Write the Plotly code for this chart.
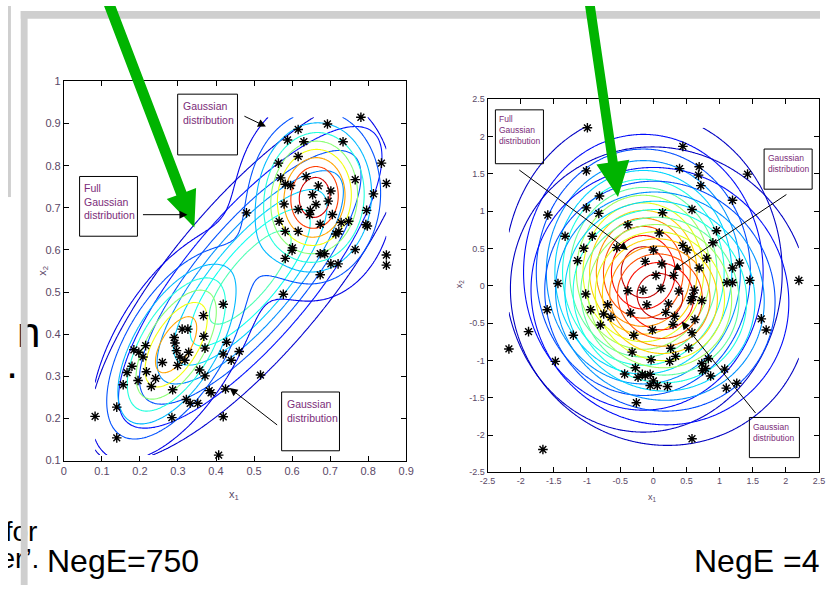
import numpy as np
import plotly.graph_objects as go

W, H = 828, 591
SANS = "Liberation Sans, Arial, sans-serif"
TICK_COLOR = "#5a4866"
BOX_TEXT = "#7b2c79"
FRAME_GRAY = "#cfcfcf"
ARROW_GREEN = "#00b400"

# ---------------- left panel: two well separated clusters ----------------
left_x1 = [0.082, 0.139, 0.139, 0.156, 0.166, 0.179, 0.184, 0.197, 0.208, 0.215,
           0.195, 0.217, 0.230, 0.241, 0.259, 0.284, 0.286, 0.290, 0.292, 0.296,
           0.299, 0.305, 0.311, 0.326, 0.318, 0.328, 0.322, 0.332, 0.352, 0.357,
           0.367, 0.368, 0.371, 0.371, 0.382, 0.387, 0.419, 0.419, 0.428, 0.440,
           0.461, 0.425, 0.419, 0.407, 0.517, 0.577,
           0.781, 0.693, 0.616, 0.588, 0.631, 0.734, 0.616, 0.564, 0.835, 0.848,
           0.570, 0.582, 0.596, 0.637, 0.669, 0.702, 0.654, 0.695, 0.663, 0.766,
           0.814, 0.796, 0.794, 0.798, 0.579, 0.616, 0.648, 0.646, 0.706, 0.674,
           0.729, 0.749, 0.566, 0.582, 0.616, 0.715, 0.723, 0.480, 0.601, 0.600,
           0.582, 0.674, 0.686, 0.766, 0.702, 0.721, 0.674, 0.848, 0.848]
left_x2 = [0.205, 0.227, 0.154, 0.280, 0.309, 0.324, 0.363, 0.357, 0.346, 0.373,
           0.290, 0.311, 0.276, 0.295, 0.333, 0.202, 0.268, 0.392, 0.379, 0.361,
           0.326, 0.346, 0.412, 0.412, 0.338, 0.357, 0.245, 0.236, 0.236, 0.315,
           0.444, 0.395, 0.367, 0.301, 0.266, 0.261, 0.471, 0.353, 0.381, 0.338,
           0.359, 0.270, 0.204, 0.113, 0.303, 0.495,
           0.915, 0.899, 0.886, 0.861, 0.857, 0.857, 0.822, 0.806, 0.806, 0.758,
           0.771, 0.756, 0.753, 0.774, 0.752, 0.740, 0.731, 0.716, 0.708, 0.767,
           0.733, 0.694, 0.660, 0.657, 0.709, 0.696, 0.694, 0.684, 0.684, 0.661,
           0.665, 0.668, 0.668, 0.644, 0.644, 0.638, 0.644, 0.688, 0.605, 0.599,
           0.580, 0.591, 0.591, 0.601, 0.567, 0.567, 0.541, 0.588, 0.564]

# fitted two-component mixture (left panel)
mix_means = [(0.660, 0.725), (0.295, 0.375)]
mix_sigmas = [(0.097, 0.115), (0.110, 0.135)]
mix_rhos = [0.05, 0.60]
mix_weights = [0.537, 0.463]
# single full Gaussian fitted to all left-panel points
full_mean_left = (0.49, 0.535)
full_sigma_left = (0.208, 0.215)
full_rho_left = 0.80

# ---------------- right panel: near-Gaussian cloud ----------------
right_x1 = [-0.994, 0.446, 0.396, 0.692, 0.682, 0.717, 1.422, -1.009, -0.812, -1.009,
            -0.822, -1.591, 0.140, 0.584, 1.195, -1.330, -0.920, -0.383, -1.049, -0.551,
            0.090, 0.446, 0.510, 0.002, 0.953, 0.899, -1.142, -0.122, 0.130, 0.806,
            0.692, 1.195, 1.299, 0.041, 0.307, 2.196, 1.456, 1.111, 1.195, -1.438,
            -0.383, -0.156, 0.115, 0.386, 0.618, 0.594, 0.569, 0.732, -1.019, -1.601,
            -1.882, -2.178, -0.945, -0.689, -0.748, -0.639, -0.343, -0.097, 0.229, 0.189,
            0.322, 0.298, 0.628, -0.797, -0.013, -0.294, 0.584, -1.206, 1.629, 1.703,
            -0.319, 0.263, 0.534, 0.337, -0.033, 0.248, 0.830, 0.732, -1.477, -0.270,
            0.742, 0.791, 0.865, 1.077, -0.432, -0.230, -0.166, -0.122, -0.047, 0.002,
            -0.047, 0.061, 0.214, 1.101, 1.259, -0.255, 0.584, -1.665]
right_x2 = [2.115, 1.866, 1.568, 1.594, 1.481, 1.341, 1.494, 1.538, 1.201, 1.043,
            0.969, 0.947, 0.978, 1.021, 1.144, 0.663, 0.663, 0.816, 0.501, 0.510,
            0.706, 0.540, 0.479, 0.479, 0.737, 0.575, 0.335, 0.326, 0.291, 0.370,
            0.238, 0.238, 0.304, 0.138, 0.138, 0.072, 0.072, 0.042, 0.042, 0.030,
            -0.068, -0.059, -0.037, -0.072, -0.059, -0.147, -0.199, -0.199, -0.112, -0.322,
            -0.615, -0.847, -0.322, -0.256, -0.379, -0.422, -0.365, -0.256, -0.243, -0.357,
            -0.409, -0.519, -0.453, -0.527, -0.593, -0.663, -0.628, -0.663, -0.444, -0.593,
            -0.890, -0.838, -0.834, -0.947, -0.991, -1.013, -0.978, -1.043, -1.013, -1.100,
            -1.140, -1.109, -1.210, -1.118, -1.183, -1.227, -1.188, -1.205, -1.188, -1.275,
            -1.337, -1.337, -1.350, -1.372, -1.306, -1.568, -2.050, -2.194]

full_mean_right = (-0.15, 0.18)
full_sigma_right = (0.90, 0.92)
full_rho_right = 0.0
gauss_mean_right = (0.10, -0.14)
gauss_sigma_right = (0.97, 0.86)
gauss_rho_right = -0.05

# axis ticks
left_xticks = [0, 0.1, 0.2, 0.3, 0.4, 0.5, 0.6, 0.7, 0.8, 0.9]
left_xlabels = ["0", "0.1", "0.2", "0.3", "0.4", "0.5", "0.6", "0.7", "0.8", "0.9"]
left_yticks = [0.1, 0.2, 0.3, 0.4, 0.5, 0.6, 0.7, 0.8, 0.9, 1.0]
left_ylabels = ["0.1", "0.2", "0.3", "0.4", "0.5", "0.6", "0.7", "0.8", "0.9", "1"]
right_ticks = [-2.5, -2, -1.5, -1, -0.5, 0, 0.5, 1, 1.5, 2, 2.5]
right_labels = ["-2.5", "-2", "-1.5", "-1", "-0.5", "0", "0.5", "1", "1.5", "2", "2.5"]


def gauss2d(X, Y, mean, sigma, rho):
    dx = (X - mean[0]) / sigma[0]
    dy = (Y - mean[1]) / sigma[1]
    q = (dx * dx + dy * dy - 2 * rho * dx * dy) / (1 - rho ** 2)
    return np.exp(-q / 2) / (2 * np.pi * sigma[0] * sigma[1] * np.sqrt(1 - rho ** 2))


def jet(t):
    r = np.clip(1.5 - abs(4 * t - 3), 0, 1)
    g = np.clip(1.5 - abs(4 * t - 2), 0, 1)
    b = np.clip(1.5 - abs(4 * t - 1), 0, 1)
    return "rgb(%d,%d,%d)" % (round(r * 255), round(g * 255), round(b * 255))


def jet_scale(lo, hi, n=25):
    return [[i / (n - 1), jet(lo + (hi - lo) * i / (n - 1))] for i in range(n)]


def contour_trace(gx, gy, Z, delta, nlev, cscale, xa, ya):
    return go.Contour(
        x=gx, y=gy, z=Z, xaxis=xa, yaxis=ya, autocontour=False,
        contours=dict(start=delta, end=delta * nlev, size=delta,
                      coloring="lines", showlabels=False),
        colorscale=cscale, showscale=False, hoverinfo="skip",
        line=dict(width=1.1, smoothing=0.8))


fig = go.Figure()

# ---- left panel contours (grid spans the data range) ----
gxl = np.linspace(min(left_x1), max(left_x1), 220)
gyl = np.linspace(min(left_x2), max(left_x2), 220)
XL, YL = np.meshgrid(gxl, gyl)
Zmix = sum(w * gauss2d(XL, YL, m, s, r)
           for w, m, s, r in zip(mix_weights, mix_means, mix_sigmas, mix_rhos))
Zfull_l = gauss2d(XL, YL, full_mean_left, full_sigma_left, full_rho_left)
nf = 7
df = Zfull_l.max() / (nf + 1)
fig.add_trace(contour_trace(gxl, gyl, Zfull_l, df, nf,
                            jet_scale(0.08, 0.45), "x", "y"))
nl = 9
dl = Zmix.max() / 9.8
fig.add_trace(contour_trace(gxl, gyl, Zmix, dl, nl,
                            jet_scale(1 / 9.8, 9 / 9.8), "x", "y"))

# ---- right panel contours ----
gxr = np.linspace(min(right_x1), max(right_x1), 220)
gyr = np.linspace(min(right_x2), max(right_x2), 220)
XR, YR = np.meshgrid(gxr, gyr)
Zfull_r = gauss2d(XR, YR, full_mean_right, full_sigma_right, full_rho_right)
Zg_r = gauss2d(XR, YR, gauss_mean_right, gauss_sigma_right, gauss_rho_right)
nr = 14
dr = max(Zfull_r.max(), Zg_r.max()) / (nr + 1)
cs_r = jet_scale(1 / (nr + 1), nr / (nr + 1))
fig.add_trace(contour_trace(gxr, gyr, Zfull_r, dr, nr, cs_r, "x2", "y2"))
fig.add_trace(contour_trace(gxr, gyr, Zg_r, dr, nr, cs_r, "x2", "y2"))

star = dict(symbol="asterisk-open", size=8, color="black",
            line=dict(color="black", width=1.4))
fig.add_trace(go.Scatter(x=left_x1, y=left_x2, mode="markers", marker=star,
                         xaxis="x", yaxis="y", hoverinfo="skip"))
fig.add_trace(go.Scatter(x=right_x1, y=right_x2, mode="markers", marker=star,
                         xaxis="x2", yaxis="y2", hoverinfo="skip"))

# slide text fragments peeking in at the left edge (pixel overlay axes)
frag_text = ["n", "’.", "for", "er’."]
frag_x = [33, 10, 30, 32]
frag_y = [337, 369, 539, 567]
frag_size = [42, 42, 28, 28]
fig.add_trace(go.Scatter(x=frag_x, y=frag_y, mode="text", text=frag_text,
                         textposition="middle left", xaxis="x3", yaxis="y3",
                         textfont=dict(family=SANS, size=frag_size, color="black"),
                         hoverinfo="skip"))

axis_common = dict(showline=True, linecolor="black", linewidth=1, mirror="ticks",
                   ticks="inside", ticklen=5, tickcolor="black", tickwidth=1,
                   showgrid=False, zeroline=False, fixedrange=True)

fig.update_layout(
    width=W, height=H, autosize=False,
    margin=dict(l=0, r=0, t=0, b=0),
    paper_bgcolor="white", plot_bgcolor="rgba(0,0,0,0)",
    showlegend=False,
    xaxis=dict(axis_common, domain=[57 / W, 406 / W], range=[0, 0.9], anchor="y",
               tickvals=left_xticks, ticktext=left_xlabels,
               tickfont=dict(family=SANS, size=11, color=TICK_COLOR)),
    yaxis=dict(axis_common, domain=[1 - 464 / H, 1 - 77 / H], range=[0.1, 1.0], anchor="x",
               tickvals=left_yticks, ticktext=left_ylabels,
               tickfont=dict(family=SANS, size=11, color=TICK_COLOR)),
    xaxis2=dict(axis_common, domain=[489 / W, 827 / W], range=[-2.5, 2.5], anchor="y2",
                tickvals=right_ticks, ticktext=right_labels,
                tickfont=dict(family=SANS, size=9, color=TICK_COLOR)),
    yaxis2=dict(axis_common, domain=[1 - 476 / H, 1 - 95 / H], range=[-2.5, 2.5], anchor="x2",
                tickvals=right_ticks, ticktext=right_labels,
                tickfont=dict(family=SANS, size=9, color=TICK_COLOR)),
    xaxis3=dict(domain=[0, 1], range=[0, W], visible=False, anchor="y3", fixedrange=True),
    yaxis3=dict(domain=[0, 1], range=[H, 0], visible=False, anchor="x3", fixedrange=True),
)


def arrow_path(tail, tip, w, hw, hl):
    dx, dy = tip[0] - tail[0], tip[1] - tail[1]
    L = np.hypot(dx, dy)
    ux, uy = dx / L, dy / L
    nx, ny = -uy, ux
    bx, by = tip[0] - hl * ux, tip[1] - hl * uy
    pts = [(tail[0] + nx * w / 2, tail[1] + ny * w / 2),
           (bx + nx * w / 2, by + ny * w / 2),
           (bx + nx * hw, by + ny * hw),
           tip,
           (bx - nx * hw, by - ny * hw),
           (bx - nx * w / 2, by - ny * w / 2),
           (tail[0] - nx * w / 2, tail[1] - ny * w / 2)]
    return "M " + " L ".join("%.1f,%.1f" % p for p in pts) + " Z"


shapes = []
# slide frame
for x0, y0, x1, y1 in [(13, 5, W, 13), (13, 5, 20, H), (0, 0, 3, 195)]:
    shapes.append(dict(type="rect", xref="x3", yref="y3", x0=x0, y0=y0, x1=x1, y1=y1,
                       fillcolor=FRAME_GRAY, line=dict(width=0), layer="above"))
# text boxes
for x0, y0, x1, y1 in [(173, 90, 234, 152), (73, 174, 132, 235), (279, 394, 338, 454),
                       (497, 106, 546, 161), (771, 146, 820, 187), (756, 420, 807, 461)]:
    shapes.append(dict(type="rect", xref="x3", yref="y3", x0=x0, y0=y0, x1=x1, y1=y1,
                       line=dict(color="black", width=1), fillcolor="rgba(0,0,0,0)",
                       layer="above"))
# green pointer arrows
for tail, tip, w, hw, hl in [((100, -10), (190, 226), 11, 16, 37),
                             ((592, -10), (622, 195), 10, 17, 36)]:
    shapes.append(dict(type="path", xref="x3", yref="y3",
                       path=arrow_path(tail, tip, w, hw, hl),
                       fillcolor=ARROW_GREEN, line=dict(width=0), layer="above"))
fig.update_layout(shapes=shapes)

ann = []
# box captions
for txt, x, y, size in [("Gaussian<br>distribution", 176, 94, 10.5),
                        ("Full<br>Gaussian<br>distribution", 75, 178, 10.5),
                        ("Gaussian<br>distribution", 282, 398, 10.5),
                        ("Full<br>Gaussian<br>distribution", 499, 108, 8.5),
                        ("Gaussian<br>distribution", 773, 148, 8.5),
                        ("Gaussian<br>distribution", 758, 423, 8.5)]:
    ann.append(dict(text=txt, x=x, y=y, xref="x3", yref="y3", xanchor="left",
                    yanchor="top", align="left", showarrow=False,
                    font=dict(family=SANS, size=size, color=BOX_TEXT)))
# thin black pointer arrows
for tail, head in [((240, 112), (263, 123)), ((137, 213), (183, 213)),
                   ((275, 428), (226, 390)), ((522, 168), (632, 249)),
                   ((793, 193), (678, 270)), ((762, 415), (687, 322))]:
    ann.append(dict(text="", x=head[0], y=head[1], xref="x3", yref="y3",
                    ax=tail[0] - head[0], ay=tail[1] - head[1], axref="pixel", ayref="pixel",
                    showarrow=True, arrowhead=2, arrowsize=1.6, arrowwidth=1,
                    arrowcolor="black"))
# axis titles
for txt, x, y, size, angle in [("x<sub>1</sub>", 230, 499, 11, 0),
                               ("x<sub>2</sub>", 35, 270, 11, -90),
                               ("x<sub>1</sub>", 657, 502, 9, 0),
                               ("x<sub>2</sub>", 460, 284, 9, -90)]:
    ann.append(dict(text=txt, x=x, y=y, xref="x3", yref="y3", showarrow=False,
                    textangle=angle, font=dict(family=SANS, size=size, color=TICK_COLOR)))
# panel captions
ann.append(dict(text="NegE=750", x=38, y=566, xref="x3", yref="y3", xanchor="left",
                yanchor="middle", showarrow=False,
                font=dict(family=SANS, size=32, color="black")))
ann.append(dict(text="NegE =4", x=697, y=566, xref="x3", yref="y3", xanchor="left",
                yanchor="middle", showarrow=False,
                font=dict(family=SANS, size=32, color="black")))
fig.update_layout(annotations=ann)

fig.write_html("out.html", post_script="document.body.style.margin='0';")
